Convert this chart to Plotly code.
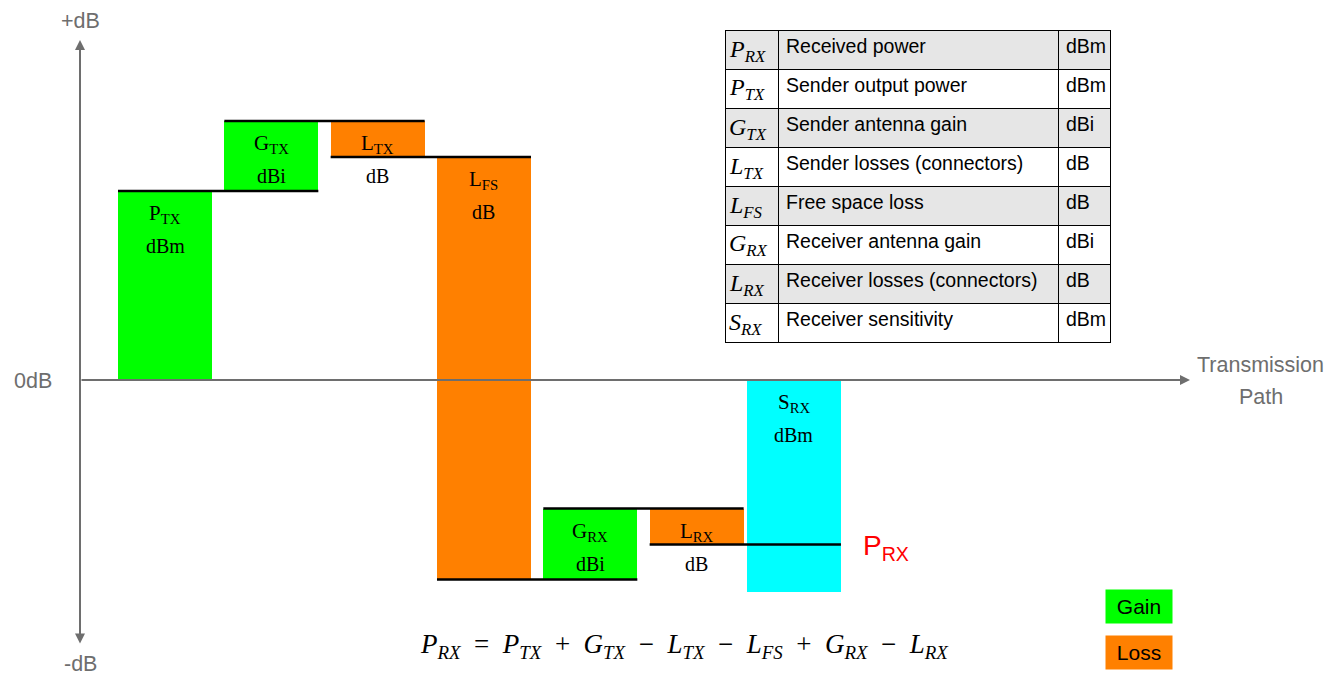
import plotly.graph_objects as go

# link budget steps (dB)
steps = ['P<sub>TX</sub>', 'G<sub>TX</sub>', 'L<sub>TX</sub>', 'L<sub>FS</sub>', 'G<sub>RX</sub>', 'L<sub>RX</sub>', 'S<sub>RX</sub>']
units = ['dBm', 'dBi', 'dB', 'dB', 'dBi', 'dB', 'dBm']
kinds = ['gain', 'gain', 'loss', 'loss', 'gain', 'loss', 'sens']
values = [20.0, 7.4, 3.8, 44.7, 7.5, 3.8, -22.4]

# table on the right (first row is the header)
sym_col = ['<i>P<sub>RX</sub></i>', '<i>P<sub>TX</sub></i>', '<i>G<sub>TX</sub></i>', '<i>L<sub>TX</sub></i>',
           '<i>L<sub>FS</sub></i>', '<i>G<sub>RX</sub></i>', '<i>L<sub>RX</sub></i>', '<i>S<sub>RX</sub></i>']
desc_col = ['Received power', 'Sender output power', 'Sender antenna gain', 'Sender losses (connectors)',
            'Free space loss', 'Receiver antenna gain', 'Receiver losses (connectors)', 'Receiver sensitivity']
unit_col = ['dBm', 'dBm', 'dBi', 'dB', 'dB', 'dBi', 'dB', 'dBm']

colors = {'gain': '#00ff00', 'loss': '#ff8000', 'sens': '#00ffff'}
SERIF = 'Liberation Serif'
SANS = 'Liberation Sans'
GREY = '#6e6e6e'

W, H = 1342, 677
OFF = 8                      # body margin of the html page
FW, FH = W - OFF, H - OFF
px_per_step = 106.33
px_per_db = 9.45
x0_px, y0_px = 165, 380
bw = 94 / px_per_step
ROW = 39

# cumulative levels
bases, heights, levels = [], [], []
lvl = 0.0
for k, v in zip(kinds, values):
    if k == 'gain':
        bases.append(lvl); heights.append(v); lvl += v
    elif k == 'loss':
        lvl -= v; bases.append(lvl); heights.append(v)
    else:
        bases.append(0); heights.append(v)
    levels.append(lvl)

xs = list(range(len(steps)))
offsets = [-bw / 2] * (len(steps) - 1) + [-bw / 2 - 0.085]

fig = go.Figure()
fig.add_trace(go.Bar(x=xs, y=heights, base=bases, width=bw, offset=offsets,
                     marker=dict(color=[colors[k] for k in kinds], line_width=0),
                     hoverinfo='skip'))

# level lines from each step to the next one
lx, ly = [], []
for i in range(len(steps) - 1):
    right = xs[i + 1] + offsets[i + 1] + bw
    lx += [xs[i] + offsets[i], right, None]
    ly += [levels[i], levels[i], None]
fig.add_trace(go.Scatter(x=lx, y=ly, mode='lines', line=dict(color='black', width=2.5), hoverinfo='skip'))

# labels in bars
for i, (s, u) in enumerate(zip(steps, units)):
    top = max(bases[i], bases[i] + heights[i])
    cx = xs[i] + offsets[i] + bw / 2
    fig.add_annotation(x=cx, y=top, text=s, showarrow=False, yshift=-23, xanchor='center', yanchor='middle',
                       font=dict(family=SERIF, size=21, color='black'))
    fig.add_annotation(x=cx, y=top, text=u, showarrow=False, yshift=-55, xanchor='center', yanchor='middle',
                       font=dict(family=SERIF, size=20, color='black'))

fig.add_annotation(x=xs[-1] + offsets[-1] + bw, y=levels[-2], text='P<sub>RX</sub>', showarrow=False,
                   xanchor='left', yanchor='middle', xshift=20, yshift=-3,
                   font=dict(family=SANS, size=28, color='red'))


# page pixel -> paper
def px(x):
    return (x - OFF) / FW


def py(y):
    return 1 - (y - OFF) / FH


# axes arrows
fig.add_annotation(xref='paper', yref='paper', x=px(80), y=py(40), ax=0, ay=605, text='', showarrow=True,
                   arrowhead=2, arrowside='end+start', arrowsize=1, arrowwidth=2, arrowcolor=GREY)
fig.add_annotation(xref='paper', yref='paper', x=px(1190), y=py(380), ax=-1110, ay=0, text='', showarrow=True,
                   arrowhead=2, arrowsize=1, arrowwidth=2, arrowcolor=GREY)
for t, x, y, ya in [('+dB', 80, 8, 'top'), ('-dB', 80, 677, 'bottom'), ('0dB', 33, 381, 'middle'),
                    ('Transmission', 1260, 365, 'middle'), ('Path', 1261, 397, 'middle')]:
    fig.add_annotation(xref='paper', yref='paper', x=px(x), y=py(y), text=t, showarrow=False, borderpad=0,
                       xanchor='center', yanchor=ya, font=dict(family=SANS, size=21.5, color=GREY))

# legend boxes
for t, k, y in [('Gain', 'gain', 606), ('Loss', 'loss', 652)]:
    fig.add_annotation(xref='paper', yref='paper', x=px(1139), y=py(y), text=t, showarrow=False,
                       xanchor='center', yanchor='middle', bgcolor=colors[k], width=62, height=29, borderpad=2,
                       font=dict(family=SANS, size=21, color='black'))

# formula
sp = '\u00a0'
fig.add_annotation(xref='paper', yref='paper', x=px(684), y=py(646), showarrow=False,
                   xanchor='center', yanchor='middle',
                   text=f'<i>P</i><sub><i>RX</i></sub>{sp} = {sp}<i>P</i><sub><i>TX</i></sub>{sp} + {sp}<i>G</i><sub><i>TX</i></sub>'
                        f'{sp} − {sp}<i>L</i><sub><i>TX</i></sub>{sp} − {sp}<i>L</i><sub><i>FS</i></sub>{sp} + {sp}<i>G</i><sub><i>RX</i></sub>'
                        f'{sp} − {sp}<i>L</i><sub><i>RX</i></sub>',
                   font=dict(family=SERIF, size=27, color='black'))

# table: grid, fills and text; symbols overlaid in the first column
TX0, TY0 = 725, 30
row_fill = ['white' if i % 2 == 0 else '#e6e6e6' for i in range(len(desc_col) - 1)]
fig.add_trace(go.Table(
    domain=dict(x=[px(TX0), px(1111)], y=[0.3, py(TY0)]),
    columnwidth=[53, 280, 52],
    header=dict(values=['', desc_col[0], unit_col[0]], height=ROW, align='left', fill_color='#e6e6e6',
                line=dict(color='black', width=1),
                font=dict(family=SANS, size=19.5, color='black')),
    cells=dict(values=[[''] * (len(desc_col) - 1), desc_col[1:], unit_col[1:]], height=ROW, align='left',
               fill=dict(color=[row_fill] * 3), line=dict(color='black', width=1),
               font=dict(family=SANS, size=19.5, color='black'))))
for i, s in enumerate(sym_col):
    fig.add_annotation(xref='paper', yref='paper', x=px(TX0 + 2), y=py(TY0 + ROW * i + ROW / 2 + 1), text=s,
                       showarrow=False, xanchor='left', yanchor='middle',
                       font=dict(family=SERIF, size=24, color='black'))

fig.update_layout(
    width=FW, height=FH, margin=dict(l=0, r=0, t=0, b=0),
    plot_bgcolor='white', paper_bgcolor='white', showlegend=False, bargap=0,
    xaxis=dict(range=[-(x0_px - OFF) / px_per_step, (FW - x0_px + OFF) / px_per_step], visible=False, fixedrange=True),
    yaxis=dict(range=[-(H - y0_px) / px_per_db, (y0_px - OFF) / px_per_db], visible=False, fixedrange=True),
)

fig.write_html('out.html')
